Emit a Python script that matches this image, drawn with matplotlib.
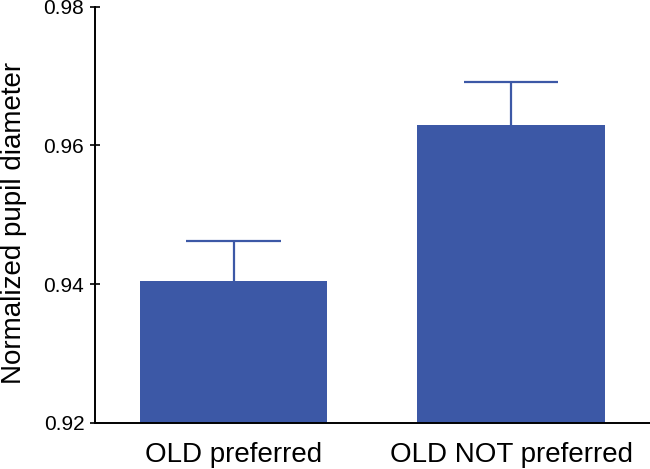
import matplotlib
matplotlib.use("Agg")
import matplotlib.pyplot as plt

categories = ["OLD preferred", "OLD NOT preferred"]
means = [0.9404, 0.9629]
sem = [0.0058, 0.0063]
yticks = [0.92, 0.94, 0.96, 0.98]
ytick_labels = ["0.92", "0.94", "0.96", "0.98"]

plt.rcParams['font.family'] = ['Liberation Sans', 'DejaVu Sans']

fig = plt.figure(figsize=(6.5, 4.69), dpi=100)
ax = fig.add_axes([94.7/650, 46.3/469, 1 - 94.7/650, (422.7-6.7)/469])

color = "#3c58a6"
x = list(range(len(categories)))
ax.bar(x, means, width=0.675, color=color, zorder=2)
tops = [m + s for m, s in zip(means, sem)]
ax.vlines(x, means, tops, color=color, linewidth=1.6, zorder=1)
ax.hlines(tops, [xi - 0.17 for xi in x], [xi + 0.17 for xi in x],
          color=color, linewidth=1.6, zorder=1)

ax.set_xlim(-0.5, 1.5)
ax.set_ylim(0.92, 0.98)
ax.set_yticks(yticks)
ax.set_yticklabels(ytick_labels)
ax.set_xticks(x)
ax.set_xticklabels(categories, fontsize=20)
ax.tick_params(axis='x', length=0, pad=14)
ax.tick_params(axis='y', direction='inout', length=7, width=1.2, labelsize=15, pad=4)
for s in ['top', 'right']:
    ax.spines[s].set_visible(False)
for s in ['left', 'bottom']:
    ax.spines[s].set_linewidth(1.4)
ax.set_ylabel("Normalized pupil diameter", fontsize=20)
ax.yaxis.set_label_coords(-0.122, 0.48)

fig.savefig("out.png", dpi=100)
